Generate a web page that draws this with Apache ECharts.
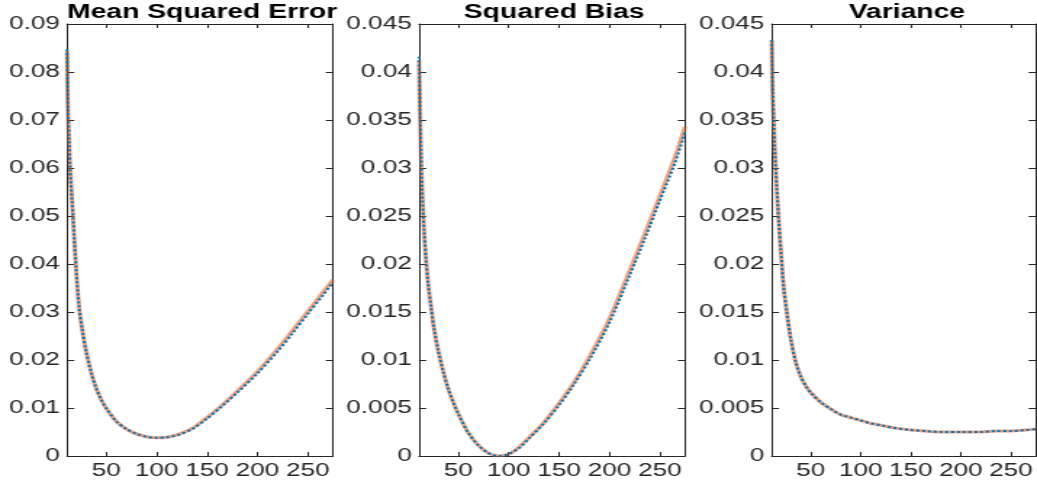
<!DOCTYPE html>
<html>
<head>
<meta charset="utf-8">
<script src="https://cdn.jsdelivr.net/npm/echarts@6/dist/echarts.min.js"></script>
<style>
html,body{margin:0;padding:0;background:#fff;overflow:hidden;}
#wrap{width:1037px;height:480px;overflow:hidden;}
#chart{width:715px;height:480px;transform:scaleX(1.4503);transform-origin:0 0;}
</style>
</head>
<body>
<div id="wrap"><div id="chart"></div></div>
<script>
// ---- data ----
const titles = ['Mean Squared Error', 'Squared Bias', 'Variance'];
const xTicks = [50, 100, 150, 200, 250];
const xs = [11,12,13,14,16,18,20,23,26,30,35,40,45,50,60,70,80,90,100,110,120,135,150,165,180,200,220,235,250,265,275];

const mseBlue   = [0.0847,0.072,0.066,0.060,0.053,0.046,0.039,0.031,0.0265,0.0218,0.0174,0.0141,0.0117,0.0099,0.0072,0.0056,0.0046,0.0040,0.0038,0.0039,0.0043,0.0056,0.0078,0.0104,0.0132,0.0172,0.0218,0.0256,0.0296,0.0335,0.0362];
const mseOrange = [0.0843,0.072,0.066,0.060,0.053,0.046,0.039,0.031,0.0265,0.0218,0.0174,0.0141,0.0117,0.0099,0.0072,0.0056,0.0046,0.0040,0.0038,0.0039,0.0044,0.0057,0.0080,0.0106,0.0135,0.0176,0.0223,0.0262,0.0301,0.0341,0.0367];

const biasBlue   = [0.0416,0.036,0.0315,0.028,0.0235,0.0205,0.018,0.0155,0.0132,0.0110,0.0088,0.0070,0.0056,0.0044,0.0024,0.0011,0.0003,0.0000,0.0002,0.0008,0.0018,0.0034,0.0053,0.0075,0.0100,0.0139,0.0188,0.0226,0.0266,0.0305,0.0337];
const biasOrange = [0.0412,0.036,0.0315,0.028,0.0235,0.0205,0.018,0.0155,0.0132,0.0110,0.0088,0.0070,0.0056,0.0044,0.0024,0.0011,0.0003,0.0000,0.0002,0.0009,0.0019,0.0035,0.0055,0.0077,0.0103,0.0143,0.0193,0.0231,0.0271,0.0311,0.0343];

const varBlue   = [0.0433,0.038,0.035,0.032,0.028,0.0245,0.0215,0.0175,0.0150,0.0122,0.0098,0.0083,0.0073,0.0066,0.0056,0.0049,0.0043,0.0040,0.0037,0.0034,0.0032,0.0029,0.0027,0.0026,0.0025,0.0025,0.0025,0.0026,0.0026,0.0027,0.0028];
const varOrange = [0.0433,0.038,0.035,0.032,0.028,0.0245,0.0215,0.0175,0.0150,0.0122,0.0098,0.0083,0.0073,0.0066,0.0056,0.0049,0.0043,0.0040,0.0037,0.0034,0.0032,0.0029,0.0027,0.0026,0.0025,0.0025,0.0025,0.0026,0.0026,0.0027,0.0028];

const yMax = [0.09, 0.045, 0.045];
const yStep = [0.01, 0.005, 0.005];

// ---- layout (unscaled units; page is stretched horizontally like the reference) ----
const S = 1.4503;
const gridLeftReal = [67, 419, 771.7];
const gridWReal = 266;
const axisColor = '#262626';
const font = '"Liberation Sans", Arial, Helvetica, sans-serif';

const blueSets = [mseBlue, biasBlue, varBlue];
const orangeSets = [mseOrange, biasOrange, varOrange];

const grid = [], xAxis = [], yAxis = [], series = [], title = [];
for (let i = 0; i < 3; i++) {
  const left = gridLeftReal[i] / S, width = gridWReal / S;
  grid.push({left: left, width: width, top: 24, bottom: 24, containLabel: false});
  title.push({
    text: titles[i], left: left + width / 2 - 3.5, top: -2, textAlign: 'center',
    textStyle: {fontFamily: font, fontWeight: 'bold', fontSize: 19.5, color: '#000'}
  });
  const xBase = {
    type: 'value', gridIndex: i, min: 11, max: 275,
    axisLine: {show: true, onZero: false, lineStyle: {color: axisColor, width: 1}},
    splitLine: {show: false}
  };
  xAxis.push(Object.assign({}, xBase, {
    position: 'bottom',
    axisTick: {show: true, inside: true, length: 4, customValues: xTicks, lineStyle: {color: axisColor}},
    axisLabel: {show: true, customValues: xTicks, margin: 6, color: axisColor, fontFamily: font, fontSize: 18}
  }));
  xAxis.push(Object.assign({}, xBase, {
    position: 'top',
    axisTick: {show: true, inside: true, length: 4, customValues: xTicks, lineStyle: {color: axisColor}},
    axisLabel: {show: false}
  }));
  const yBase = {
    type: 'value', gridIndex: i, min: 0, max: yMax[i], interval: yStep[i],
    axisLine: {show: true, onZero: false, lineStyle: {color: axisColor, width: 1}},
    splitLine: {show: false}
  };
  yAxis.push(Object.assign({}, yBase, {
    position: 'left',
    axisTick: {show: true, inside: true, length: 5, lineStyle: {color: axisColor}},
    axisLabel: {show: true, margin: 5, color: axisColor, fontFamily: font, fontSize: 18}
  }));
  yAxis.push(Object.assign({}, yBase, {
    position: 'right',
    axisTick: {show: true, inside: true, length: 5, lineStyle: {color: axisColor}},
    axisLabel: {show: false}
  }));
  series.push({
    type: 'line', xAxisIndex: 2 * i, yAxisIndex: 2 * i,
    data: xs.map((x, k) => [x, orangeSets[i][k]]),
    showSymbol: false, smooth: 0.3,
    lineStyle: {color: '#D95319', width: 3, opacity: 0.55}, z: 2
  });
  series.push({
    type: 'line', xAxisIndex: 2 * i, yAxisIndex: 2 * i,
    data: xs.map((x, k) => [x, blueSets[i][k]]),
    showSymbol: false, smooth: 0.3,
    lineStyle: {color: '#0072BD', width: 2, type: [2, 2]}, z: 3
  });
}

const chart = echarts.init(document.getElementById('chart'), null, {renderer: 'canvas'});
chart.setOption({
  animation: false,
  backgroundColor: '#fff',
  title: title,
  grid: grid,
  xAxis: xAxis,
  yAxis: yAxis,
  series: series
});
</script>
</body>
</html>
